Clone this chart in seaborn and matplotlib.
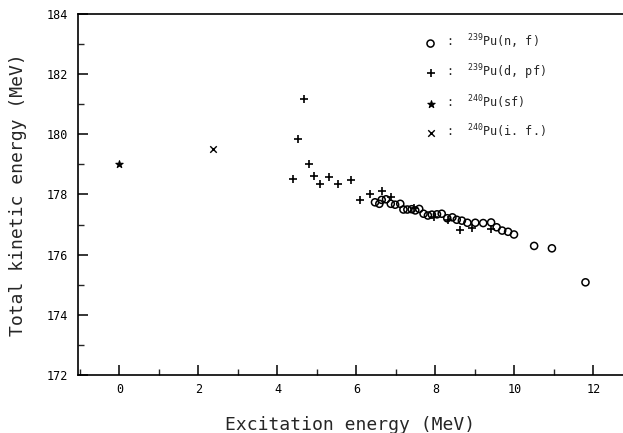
import numpy as np
import pandas as pd
import matplotlib
matplotlib.use("Agg")
import matplotlib.pyplot as plt
from matplotlib.ticker import MultipleLocator
import seaborn as sns

# values
nf_x = [6.47, 6.58, 6.64, 6.75, 6.87, 6.98, 7.11, 7.19, 7.29, 7.40, 7.49, 7.59,
        7.70, 7.81, 7.91, 8.04, 8.16, 8.30, 8.43, 8.54, 8.67, 8.81, 9.01, 9.21,
        9.41, 9.55, 9.69, 9.84, 9.99, 10.50, 10.95, 11.80]
nf_y = [177.74, 177.69, 177.82, 177.84, 177.69, 177.66, 177.69, 177.50, 177.50,
        177.51, 177.47, 177.52, 177.36, 177.30, 177.33, 177.34, 177.36, 177.21,
        177.24, 177.16, 177.13, 177.06, 177.06, 177.05, 177.07, 176.91, 176.80,
        176.76, 176.67, 176.29, 176.21, 175.08]

dpf_x = [4.39, 4.52, 4.66, 4.81, 4.93, 5.07, 5.31, 5.53, 5.86, 6.10, 6.35, 6.64,
         6.88, 7.45, 7.97, 8.33, 8.63, 8.92, 9.41]
dpf_y = [178.52, 179.85, 181.16, 179.00, 178.62, 178.35, 178.58, 178.34, 178.47,
         177.82, 178.00, 178.11, 177.90, 177.55, 177.25, 177.15, 176.82, 176.89,
         176.86]

sf_x = [0.0]
sf_y = [179.0]

if_x = [2.38]
if_y = [179.51]

labels = [r":  $^{239}$Pu(n, f)", r":  $^{239}$Pu(d, pf)",
          r":  $^{240}$Pu(sf)", r":  $^{240}$Pu(i. f.)"]

sns.set_style("ticks")
plt.rcParams["font.family"] = ["DejaVu Sans Mono", "DejaVu Sans"]
plt.rcParams["mathtext.default"] = "regular"

fig = plt.figure(figsize=(6.23, 4.33), dpi=100)
ax = fig.add_axes([0.1252, 0.134, 0.8748, 0.8337])

sns.scatterplot(x=nf_x, y=nf_y, ax=ax, marker="o", s=26, facecolor="none",
                edgecolor="black", linewidth=1.1, label=labels[0])
sns.scatterplot(x=dpf_x, y=dpf_y, ax=ax, marker="+", s=40, color="black",
                linewidth=1.2, label=labels[1])
sns.scatterplot(x=sf_x, y=sf_y, ax=ax, marker="*", s=30, color="black",
                edgecolor="black", linewidth=0.8, label=labels[2])
sns.scatterplot(x=if_x, y=if_y, ax=ax, marker="x", s=22, color="black",
                linewidth=1.0, label=labels[3])

ax.set_xlim(-1.05, 12.75)
ax.set_ylim(172, 184)
ax.xaxis.set_major_locator(MultipleLocator(2))
ax.xaxis.set_minor_locator(MultipleLocator(1))
ax.yaxis.set_major_locator(MultipleLocator(2))
ax.yaxis.set_minor_locator(MultipleLocator(1))
ax.tick_params(which="major", direction="in", length=7, width=1.1,
               labelsize=8.5, colors="black")
ax.tick_params(which="minor", direction="in", length=4, width=1.0)
ax.tick_params(axis="y", pad=7)
ax.tick_params(axis="x", pad=6)

for side in ["left", "bottom", "top"]:
    ax.spines[side].set_linewidth(1.2)
    ax.spines[side].set_color("black")
ax.spines["right"].set_visible(False)

ax.set_xlabel("Excitation energy (MeV)", fontsize=13, labelpad=14)
ax.set_ylabel("Total kinetic energy (MeV)", fontsize=13, labelpad=14)

ax.legend(loc="upper left", bbox_to_anchor=(0.636, 0.948), frameon=False,
          fontsize=8.5, labelspacing=0.95, handlelength=1.0, handletextpad=0.8,
          borderpad=0, borderaxespad=0)

fig.savefig("out.png", dpi=100)
